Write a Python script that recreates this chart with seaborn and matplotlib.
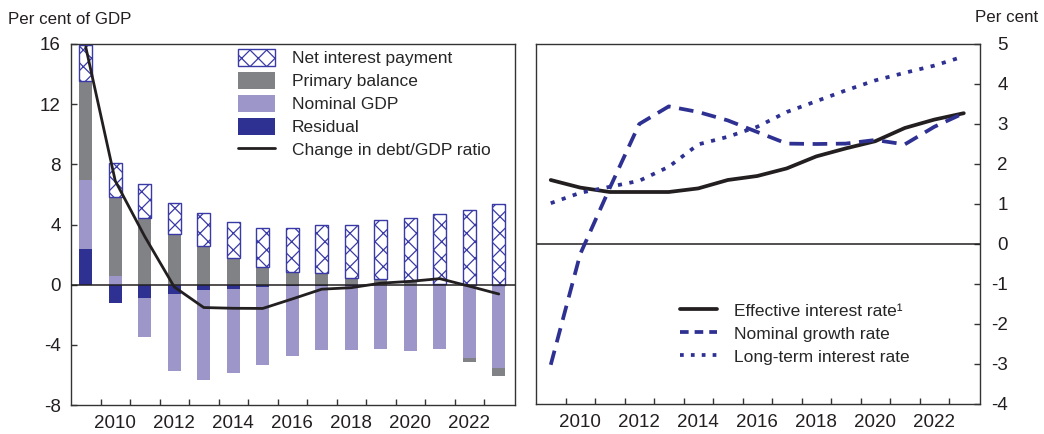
import numpy as np
import pandas as pd
import matplotlib
matplotlib.use("Agg")
import matplotlib.pyplot as plt
import seaborn as sns
from matplotlib.patches import Patch
from matplotlib.lines import Line2D

# ---------------- data ----------------
years = list(range(2009, 2024))
net_interest = [2.4, 2.3, 2.2, 2.12, 2.23, 2.45, 2.63, 2.92, 3.2, 3.53, 3.93, 4.24, 4.65, 4.97, 5.37]
primary_balance = [6.6, 5.2, 4.46, 3.34, 2.56, 1.74, 1.16, 0.87, 0.78, 0.45, 0.35, 0.22, 0.05, -0.25, -0.53]
nominal_gdp = [4.6, 0.6, -2.58, -5.17, -5.97, -5.59, -5.19, -4.71, -4.27, -4.29, -4.21, -4.34, -4.21, -4.9, -5.53]
residual = [2.35, -1.25, -0.9, -0.6, -0.38, -0.28, -0.18, -0.06, -0.1, -0.08, -0.05, -0.05, -0.05, 0.0, 0.0]
debt_change = [15.8, 6.9, 3.2, -0.15, -1.52, -1.57, -1.58, -0.95, -0.3, -0.2, 0.1, 0.22, 0.4, -0.1, -0.62]

effective_rate = [1.6, 1.41, 1.3, 1.3, 1.3, 1.39, 1.6, 1.7, 1.89, 2.19, 2.39, 2.57, 2.9, 3.11, 3.27]
nominal_growth = [-3.02, -0.25, 1.4, 3.0, 3.44, 3.3, 3.09, 2.8, 2.51, 2.5, 2.51, 2.6, 2.49, 2.93, 3.27]
long_term_rate = [1.02, 1.28, 1.43, 1.58, 1.93, 2.49, 2.68, 2.93, 3.3, 3.57, 3.84, 4.09, 4.28, 4.46, 4.69]

left_yticks = [-8, -4, 0, 4, 8, 12, 16]
right_yticks = [-4, -3, -2, -1, 0, 1, 2, 3, 4, 5]
xtick_years = [2010, 2012, 2014, 2016, 2018, 2020, 2022]

left_labels = ["Net interest payment", "Primary balance", "Nominal GDP", "Residual",
               "Change in debt/GDP ratio"]
right_labels = ["Effective interest rate\u00b9", "Nominal growth rate", "Long-term interest rate"]

# ---------------- style ----------------
sns.set_theme(style="white")
plt.rcParams["font.family"] = ["Liberation Sans", "DejaVu Sans"]
plt.rcParams["axes.unicode_minus"] = False
BLUE = "#2e3192"
HATCH = "#3a3aa6"
GREY = "#818285"
LIGHT = "#9d97c9"
INK = "#231f20"
plt.rcParams["hatch.linewidth"] = 0.9
plt.rcParams["hatch.color"] = HATCH

fig = plt.figure(figsize=(10.44, 4.34), dpi=100)
W, H = 1044.0, 434.0
ax1 = fig.add_axes([71 / W, 1 - 405 / H, 444 / W, 361 / H])
ax2 = fig.add_axes([536 / W, 1 - 404 / H, 444 / W, 360 / H])

df = pd.DataFrame({
    "year": years,
    "Residual": residual,
    "Nominal GDP": nominal_gdp,
    "Primary balance": primary_balance,
    "Net interest payment": net_interest,
    "Change": debt_change,
})

bw = 0.43
n = len(df)
pos_b = np.zeros(n)
neg_b = np.zeros(n)
for name, col in [("Residual", BLUE), ("Nominal GDP", LIGHT), ("Primary balance", GREY)]:
    v = df[name].to_numpy(dtype=float)
    bottom = np.where(v >= 0, pos_b, neg_b)
    ax1.bar(df["year"], v, bottom=bottom, width=bw, color=col, linewidth=0, zorder=2)
    pos_b += np.where(v > 0, v, 0)
    neg_b += np.where(v < 0, v, 0)
ax1.bar(df["year"], df["Net interest payment"], bottom=pos_b, width=bw,
        facecolor="white", edgecolor=HATCH, hatch="xx", linewidth=1.0, zorder=2)

ax1.axhline(0, color=INK, lw=1.1, zorder=3)
sns.lineplot(data=df, x="year", y="Change", ax=ax1, color=INK, linewidth=2.0, zorder=4)

ax1.set_xlim(2008.5, 2023.55)
ax1.set_ylim(-8, 16)
ax1.set_yticks(left_yticks)

# right panel
rdf = pd.DataFrame({"year": years, "eff": effective_rate, "ng": nominal_growth, "lt": long_term_rate})
ax2.axhline(0, color=INK, lw=1.1, zorder=1)
sns.lineplot(data=rdf, x="year", y="eff", ax=ax2, color=INK, linewidth=2.7, zorder=3)
sns.lineplot(data=rdf, x="year", y="ng", ax=ax2, color=BLUE, linewidth=2.7,
             linestyle=(0, (3.9, 2.3)), dash_capstyle="butt", zorder=3)
sns.lineplot(data=rdf, x="year", y="lt", ax=ax2, color=BLUE, linewidth=2.7,
             linestyle=(0, (1.1, 2.0)), dash_capstyle="butt", zorder=3)
ax2.set_xlim(2008.5, 2023.55)
ax2.set_ylim(-4, 5)
ax2.set_yticks(right_yticks)

for ax in (ax1, ax2):
    ax.set_xlabel("")
    ax.set_ylabel("")
    ax.set_xticks(xtick_years)
    ax.set_xticks(np.arange(2009.5, 2023.0, 1.0), minor=True)
    ax.tick_params(axis="x", which="major", length=0, pad=7, labelsize=13.5, labelcolor=INK, bottom=True)
    ax.tick_params(axis="x", which="minor", direction="in", length=4.5, width=1.0, color="#333333", bottom=True)
    for s in ax.spines.values():
        s.set_color("#333333")
        s.set_linewidth(1.0)

ax1.tick_params(axis="y", direction="in", length=4.5, width=1.0, color="#333333",
                left=True, pad=7.5, labelsize=13.5, labelcolor=INK)
ax2.yaxis.tick_right()
ax2.tick_params(axis="y", direction="in", length=4.5, width=1.0, color="#333333",
                right=True, left=False, labelright=True, labelleft=False,
                pad=20, labelsize=13.5, labelcolor=INK)
for t in ax2.get_yticklabels():
    t.set_horizontalalignment("right")

# legends
lh = [
    Patch(facecolor="white", edgecolor=HATCH, hatch="xx", linewidth=1.0),
    Patch(facecolor=GREY, edgecolor="none"),
    Patch(facecolor=LIGHT, edgecolor="none"),
    Patch(facecolor=BLUE, edgecolor="none"),
    Line2D([], [], color=INK, lw=2.0),
]
ax1.legend(lh, left_labels, loc="upper left", bbox_to_anchor=((238 - 71) / 444, (405 - 49) / 361),
           frameon=False, fontsize=12.5, handlelength=2.15, handleheight=1.1,
           handletextpad=0.95, labelspacing=0.33, borderpad=0, borderaxespad=0)

rh = [
    Line2D([], [], color=INK, lw=2.7),
    Line2D([], [], color=BLUE, lw=2.7, linestyle=(0, (2.3, 1.6)), dash_capstyle="butt"),
    Line2D([], [], color=BLUE, lw=2.7, linestyle=(0, (1.0, 1.9)), dash_capstyle="butt"),
]
ax2.legend(rh, right_labels, loc="upper left", bbox_to_anchor=((680 - 536) / 444, (404 - 302) / 360),
           frameon=False, fontsize=12.5, handlelength=2.15, handleheight=1.1,
           handletextpad=0.95, labelspacing=0.33, borderpad=0, borderaxespad=0)

fig.text(8 / W, 1 - 19 / H, "Per cent of GDP", ha="left", va="center", fontsize=12.2, color=INK)
fig.text(1038 / W, 1 - 18 / H, "Per cent", ha="right", va="center", fontsize=12.2, color=INK)

fig.savefig("out.png", dpi=100)
